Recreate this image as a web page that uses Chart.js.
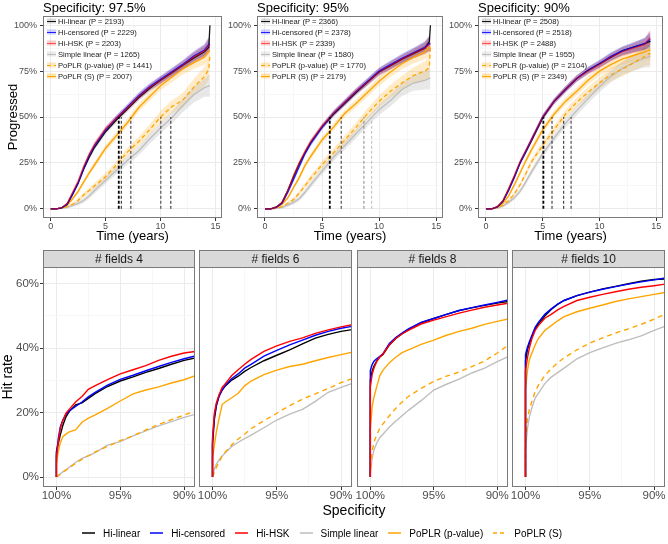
<!DOCTYPE html>
<html><head><meta charset="utf-8">
<script src="https://cdn.jsdelivr.net/npm/chart.js@4.4.1/dist/chart.umd.min.js"></script>
<style>
html,body{margin:0;padding:0;background:#fff;}
body{width:668px;height:544px;position:relative;overflow:hidden;font-family:"Liberation Sans",Arial,Helvetica,sans-serif;}
canvas{position:absolute;}
#xtitle{position:absolute;left:354px;top:501px;transform:translateX(-50%);font-size:14px;line-height:18px;color:#000;white-space:nowrap;}
#legend{position:absolute;left:82px;top:525px;height:16px;display:flex;align-items:center;font-size:10px;color:#000;white-space:nowrap;}
#legend .it{display:flex;align-items:center;margin-right:10px;}
#legend svg{margin-right:8px;}
</style></head><body>
<canvas id="t1" width="228" height="248" style="left:0;top:0;width:228px;height:248px"></canvas>
<canvas id="t2" width="226" height="248" style="left:222px;top:0;width:226px;height:248px"></canvas>
<canvas id="t3" width="220" height="248" style="left:448px;top:0;width:220px;height:248px"></canvas>
<canvas id="b1" width="197" height="257" style="left:0;top:248px;width:197px;height:257px"></canvas>
<canvas id="b2" width="157" height="257" style="left:197px;top:248px;width:157px;height:257px"></canvas>
<canvas id="b3" width="157" height="257" style="left:354px;top:248px;width:157px;height:257px"></canvas>
<canvas id="b4" width="157" height="257" style="left:511px;top:248px;width:157px;height:257px"></canvas>
<div id="xtitle">Specificity</div>
<div id="legend"></div>
<script>
// ---------------- DATA ----------------
const methods = ['Hi-linear','Hi-censored','Hi-HSK','Simple linear','PoPLR (p-value)','PoPLR (S)'];
const pCount975 = [2193, 2229, 2203, 1265, 1441, 2007];
const pCount95  = [2366, 2378, 2339, 1580, 1770, 2179];
const pCount90  = [2508, 2518, 2488, 1955, 2104, 2349];
const specTitles = ['Specificity: 97.5%', 'Specificity: 95%', 'Specificity: 90%'];

// Time (years) grid of the cumulative progression curves
const years = [0,0.5,1,1.5,2,2.5,3,3.5,4,5,6,7,8,9,10,11,12,13,14,14.4,14.5];

// Specificity 97.5%
const hiLinear975   = [0,0,0.5,2.5,8,14,21.5,28,33.5,42,48.5,54.5,60.5,65.5,70,74,78,82,85.5,88,100];
const hiCensored975 = [0,0,0.5,2.5,8,14,22,29,34.5,43,49.5,55.5,61.5,66.5,70.5,74.5,78.5,83,86.5,89.5,89.5];
const hiHSK975      = [0,0,0.6,3,9,15,23,29.5,35,43.5,49.5,55,61,66,70,74,78,82.5,86,89,89];
const simple975     = [0,0,0.2,0.8,1.8,3,4.5,7,10,15.5,21,26.5,31.5,38,44,49.5,56,62,66,67,67];
const poplrP975     = [0,0,0.3,1.2,2.5,4.5,7.5,10,12.5,17.5,24,31,36.5,43,50,55.5,59,66,72,76,84];
const poplrS975     = [0,0,0.4,2,5.5,9.5,14.5,19.5,24,33,40,47,55,61,67,71.5,76,79.5,82.5,86,86];
// Specificity 95%
const hiLinear95   = [0,0,1,3.5,10,17.5,24.5,30.5,36,44.5,51.5,57.5,63.5,69,74.5,78,81.5,84.5,87.5,91,100];
const hiCensored95 = [0,0,0.8,3,9,16,23,30,35.5,44.5,52,58,64,69.5,75,78.5,82,85,88,90,90];
const hiHSK95      = [0,0,1,3.5,10,18,25,31,36.5,45,52,58,64,69,74.5,78,81.5,84.5,87.5,89.5,89.5];
const simple95     = [0,0,0.2,0.8,2,3.5,5.5,9,13,20.5,28,34.5,41,47.5,54,59,65,68.5,70,71,71];
const poplrP95     = [0,0,0.3,1.2,3,5,8.5,12.5,16.5,24,30.5,37.5,44.5,52,58.5,64,68.5,72.5,75,77,88];
const poplrS95     = [0,0,0.5,2.5,6,11.5,17,23.5,28.5,37.5,44.5,52,57.5,63.5,69.5,74.5,79,82.5,85.5,88,88];
// Specificity 90%
const hiLinear90   = [0,0,1,4.2,10.5,17.5,25,31,37,49.5,58.5,65,71,75.5,79,82.5,86,88,90,91,91];
const hiCensored90 = [0,0,1,4,10,17,25,31,37.5,50,58.5,65,71,75.5,79,83,86,88,90,92,92];
const hiHSK90      = [0,0,1.2,4.5,11,18,25.5,31.5,37.5,50,58.5,65,71,75,78.5,82.5,85.5,87.5,89.5,93,93];
const simple90     = [0,0,0.4,1.5,3.5,6,9.5,14.5,20,30,38.5,46.5,53.5,60,66.5,72,76.5,79.5,82,83,83];
const poplrP90     = [0,0,0.5,2,4.5,8,13,19,25.5,34.5,43,51.5,58,63.5,68.5,73,76,79.5,83,84.5,84.5];
const poplrS90     = [0,0,0.7,3,7,13,19.5,26,32,43,51.5,58.5,64,70,75,78.5,81.5,83.5,85.5,86.5,86.5];

// Half-widths of the confidence bands (percentage points)
const bandHi     = [0,0,0.3,0.7,1,1.2,1.3,1.4,1.5,1.5,1.6,1.7,1.8,1.9,2,2.2,2.4,2.7,3.2,4,4];
const bandSimple = [0,0,0.3,0.6,0.9,1.1,1.3,1.5,1.7,1.9,2.1,2.3,2.5,2.7,2.9,3.2,3.6,4.2,5,6,6];
const bandPoplrP = [0,0,0.3,0.6,0.9,1.1,1.3,1.5,1.7,2,2.2,2.4,2.6,2.9,3.2,3.5,4,4.5,5.2,6,6];
const bandPoplrS = [0,0,0.3,0.6,0.9,1.1,1.3,1.5,1.6,1.8,1.9,2,2.1,2.3,2.5,2.7,3,3.4,4,5,5];

// Median time to progression (vertical dashed lines)
const medians975 = [6.2, 6.43, 7.3, 10.03, 10.94];
const medians95  = [5.68, 6.68, 8.67, 9.35];
const medians90  = [5.06, 5.82, 6.85, 7.5];

const timeTicks = [0,5,10,15];
const progressTicks = [0,25,50,75,100];

// Hit rate vs specificity
const fieldLabels = ['# fields 4', '# fields 6', '# fields 8', '# fields 10'];
const specificity = [100,100,99.85,99.7,99.5,99.25,99,98.5,98,97.5,97,96,95,94,93,92,91,90,89.1];
const specTicks = [100,95,90];
const hitTicks = [0,20,40,60];

const hitHiLinear4   = [0,8,10.5,13,16,18.7,20.3,22.4,23,24.4,25.8,28.1,29.8,31.1,32.5,33.7,35,36.2,37];
const hitHiCensored4 = [0,7,12,15.5,17.7,19.5,20.5,21.9,23.3,24.9,26.2,28.5,30.3,31.6,33,34.3,35.6,36.7,37.6];
const hitHiHSK4      = [0,6,11,15,17.5,19.8,21,23.3,25,27.2,28.3,30.2,32,33.3,34.6,36.2,37.5,38.5,39];
const hitSimple4     = [0,0,0.5,1,1.6,2.2,3,4.5,5.8,6.6,7.5,9.9,11,12.8,14.3,15.9,17.2,18.5,19.5];
const hitPoplrP4     = [0,4,8,10.5,12.5,13.3,14,14.6,17,18.3,19.2,21.3,23.6,25.8,27,28,29.2,30.2,31.5];
const hitPoplrS4     = [0,0,0.4,0.8,1.5,2.2,2.8,4.3,5.5,6.6,7.7,9.5,11.3,12.8,14.6,16.3,17.8,19.2,20.6];

const hitHiLinear6   = [0,10,18,22,25,27,28.3,30.1,31.3,32.8,34,36.1,37.8,39.5,41.3,43.1,44.3,45.2,45.8];
const hitHiCensored6 = [0,11,19,22.5,25,27,28.5,30.6,32,33.8,35,37.5,39.3,41,42.5,44,45.2,46.2,46.8];
const hitHiHSK6      = [0,12,20,23,25.5,27.8,29,31.5,33.3,35,36.5,39,40.7,42.1,43.2,44.6,45.7,46.6,47.3];
const hitSimple6     = [0,0,2.5,4,5.2,6.5,7.5,9.5,10.8,11.9,13,15.3,17.7,19.5,21,23.5,26.3,27.8,29.1];
const hitPoplrP6     = [0,6,10,14,18,22.5,23.3,24.6,26,28.3,29.8,31.8,33.2,34.3,35,36.1,37.1,38,38.8];
const hitPoplrS6     = [0,0,1.5,3,4.5,6.5,7.8,10,11.8,13.3,15,17.5,19.8,22.2,24.2,25.8,27.5,29.3,30.6];

const hitHiLinear8   = [0,30,33,34.5,36,37.3,38,41,43,44.5,45.8,47.9,49.2,50.5,51.7,52.5,53.3,54,54.5];
const hitHiCensored8 = [0,33,35,36,36.7,37.5,38.3,41.5,43.3,44.7,46,48,49.2,50.5,51.7,52.6,53.4,54.2,55];
const hitHiHSK8      = [0,28,32,34,35.8,37.3,38.2,41,43,44.4,45.5,47.5,48.7,49.8,50.9,51.8,52.7,53.4,54];
const hitSimple8     = [0,1,6,8.5,10.5,12.3,13.3,15.5,17.3,19,20.7,23.7,27,28.8,30.4,32.3,33.8,35.8,37.4];
const hitPoplrP8     = [0,15,22,25,28,31.5,33.2,35.5,37.2,38.6,39.5,41.2,42.5,44,45.2,46.2,47.4,48.3,49.1];
const hitPoplrS8     = [0,2,8,11,13,15.2,16.5,19,21.3,23.3,25,27.5,29.7,31.3,32.6,34.3,36,38.5,41];

const hitHiLinear10   = [0,36,39.5,41.5,43.5,46,47.5,50,52,53.6,54.8,56.3,57.4,58.4,59.2,60,60.8,61.3,61.5];
const hitHiCensored10 = [0,38,40.3,42,44,46.5,48,50.5,52.2,53.7,54.8,56.3,57.4,58.3,59.1,59.9,60.6,61.2,61.8];
const hitHiHSK10      = [0,33,37,40,43,45.5,47,49.3,50.5,51.9,53,54.8,55.8,56.7,57.5,58.3,58.9,59.4,59.9];
const hitSimple10     = [0,8.4,15,18.7,21.5,24.5,26,29,31,32.4,33.8,36.7,38.6,40.1,41.5,42.6,43.8,45.5,46.9];
const hitPoplrP10     = [0,27,33,36.4,38.5,41,43,45.5,47,48.5,49.8,51.3,52.4,53.4,54.5,55.3,56,56.7,57.3];
const hitPoplrS10     = [0,11.5,18,21,23.5,26.5,28.5,31.5,33.6,35.5,37,39.5,41.6,43.2,44.7,46,47.4,49,50.7];

// ---------------- STYLES ----------------
const FONT = '"Liberation Sans", Arial, Helvetica, sans-serif';
Chart.defaults.font.family = FONT;
Chart.defaults.animation = false;
Chart.defaults.plugins.legend.display = false;
Chart.defaults.plugins.tooltip.enabled = false;

const topStyle = [
  {color:'rgba(0,0,0,0.9)',     band:'rgba(0,0,0,0.10)',       key:'rgba(0,0,0,0.15)',       dash:[],    width:1.3, order:3},
  {color:'rgba(0,0,255,0.85)',  band:'rgba(0,0,255,0.22)',     key:'rgba(0,0,255,0.2)',      dash:[],    width:1.3, order:2},
  {color:'rgba(255,0,0,0.6)',   band:'rgba(255,0,0,0.22)',     key:'rgba(255,0,0,0.2)',      dash:[],    width:1.3, order:1},
  {color:'#bebebe',             band:'rgba(190,190,190,0.35)', key:'rgba(190,190,190,0.3)',  dash:[],    width:1.3, order:6},
  {color:'#ffa500',             band:'rgba(255,165,0,0.22)',   key:'rgba(255,165,0,0.25)',   dash:[4,3], width:1.3, order:5},
  {color:'#ffa500',             band:'rgba(255,165,0,0.22)',   key:'rgba(255,165,0,0.3)',    dash:[],    width:1.4, order:4}
];
const bottomStyle = [
  {color:'#000000', dash:[],    order:3},
  {color:'#0000ff', dash:[],    order:2},
  {color:'#ff0000', dash:[],    order:1},
  {color:'#bebebe', dash:[],    order:6},
  {color:'#ffa500', dash:[],    order:4},
  {color:'#ffa500', dash:[5,4], order:5}
];
const medianColor = ['#000','#222','#222','#333','#222'];
const medianColor95 = ['#000','#333','#888','#bbb'];

const MAJ = '#ebebeb', MIN = '#f4f4f4';

// ---------------- PLUGIN: panel border, strip, title, inset legend ----------------
const panelDecor = {
  id: 'panelDecor',
  afterDraw(chart, args, o) {
    const {ctx, chartArea: a} = chart;
    ctx.save();
    const L = Math.round(a.left) + 0.5, T = Math.round(a.top) + 0.5;
    const W = Math.round(a.right) - Math.round(a.left) - 1, H = Math.round(a.bottom) - Math.round(a.top) - 1;
    ctx.strokeStyle = '#7a7a7a'; ctx.lineWidth = 1; ctx.setLineDash([]);
    ctx.strokeRect(L, T, W, H);
    if (o.strip) {
      const sh = 17;
      ctx.fillStyle = '#d9d9d9';
      ctx.fillRect(L, T - sh, W, sh);
      ctx.strokeRect(L, T - sh, W, sh);
      ctx.fillStyle = '#1a1a1a'; ctx.font = '12px ' + FONT;
      ctx.textAlign = 'center'; ctx.textBaseline = 'middle';
      ctx.fillText(o.strip, (a.left + a.right) / 2, T - sh / 2 + 0.5);
    }
    if (o.title) {
      ctx.fillStyle = '#000'; ctx.font = '13px ' + FONT;
      ctx.textAlign = 'left'; ctx.textBaseline = 'middle';
      ctx.fillText(o.title, a.left, 8);
    }
    if (o.legend) {
      ctx.font = '7.6px ' + FONT; ctx.textAlign = 'left'; ctx.textBaseline = 'middle';
      o.legend.forEach((it, i) => {
        const y = Math.round(a.top + 4.7 + i * 11);
        const x0 = a.left + 4;
        ctx.fillStyle = it.key; ctx.fillRect(x0, y - 2.5, 9, 5);
        ctx.strokeStyle = it.color; ctx.lineWidth = 1; ctx.setLineDash(it.dash);
        ctx.beginPath(); ctx.moveTo(x0, y + 0.5); ctx.lineTo(x0 + 9, y + 0.5); ctx.stroke();
        ctx.setLineDash([]);
        ctx.fillStyle = '#1a1a1a'; ctx.fillText(it.text, x0 + 11, y + 0.5);
      });
    }
    ctx.restore();
  }
};

function withMinor(major) {
  const out = [];
  for (let i = 0; i < major.length; i++) {
    out.push(major[i]);
    if (i < major.length - 1) out.push((major[i] + major[i + 1]) / 2);
  }
  return out.sort((p, q) => p - q);
}

function axisGrid(major) {
  const isMaj = c => c.tick && major.indexOf(c.tick.value) >= 0;
  return {
    color: c => isMaj(c) ? MAJ : MIN,
    lineWidth: c => isMaj(c) ? 1 : 0.7,
    tickColor: c => isMaj(c) ? '#333' : 'rgba(0,0,0,0)',
    tickLength: 3,
    drawTicks: true
  };
}

// ---------------- TOP PANELS ----------------
function makeTop(id, cfg) {
  const series = cfg.series, bands = [bandHi, bandHi, bandHi, bandSimple, bandPoplrP, bandPoplrS];
  const ds = [];
  series.forEach((vals, i) => {
    const st = topStyle[i];
    ds.push({data: years.map((t, k) => ({x: t, y: Math.min(100, vals[k] + bands[i][k])})),
      borderWidth: 0, pointRadius: 0, fill: false, order: 20 + i});
    ds.push({data: years.map((t, k) => ({x: t, y: Math.max(0, vals[k] - bands[i][k])})),
      borderWidth: 0, pointRadius: 0, fill: '-1', backgroundColor: st.band, order: 20 + i});
  });
  series.forEach((vals, i) => {
    const st = topStyle[i];
    ds.push({data: years.map((t, k) => ({x: t, y: vals[k]})), borderColor: st.color,
      borderWidth: st.width, borderDash: st.dash, pointRadius: 0, fill: false, order: st.order, tension: 0});
  });
  cfg.medians.forEach((m, i) => {
    ds.push({data: [{x: m, y: 0}, {x: m, y: 50}], borderColor: cfg.medColors[i],
      borderWidth: i === 0 ? 1.8 : 1, borderDash: [3, 2], pointRadius: 0, fill: false, order: 0});
  });
  const legend = methods.map((m, i) => ({text: m + ' (P = ' + cfg.counts[i] + ')',
    color: topStyle[i].color, key: topStyle[i].key, dash: topStyle[i].dash}));
  new Chart(document.getElementById(id), {
    type: 'line',
    data: {datasets: ds},
    plugins: [panelDecor],
    options: {
      responsive: false, maintainAspectRatio: false,
      layout: {padding: {top: 16, right: cfg.padRight, left: 0, bottom: 0}},
      plugins: {panelDecor: {title: cfg.title, legend: legend}},
      scales: {
        x: {type: 'linear', min: -0.7, max: 15.6,
          afterBuildTicks: s => { s.ticks = withMinor(timeTicks).map(v => ({value: v})); },
          afterFit: s => { s.height = 30; s.paddingLeft = 0; s.paddingRight = 0; },
          grid: axisGrid(timeTicks), border: {display: false},
          ticks: {autoSkip: false, maxRotation: 0, padding: 0, color: '#4d4d4d', font: {size: 9},
            callback: v => timeTicks.indexOf(v) >= 0 ? String(v) : ''},
          title: {display: true, text: 'Time (years)', color: '#000', font: {size: 13}, padding: {top: 0, bottom: 3.5}}
        },
        y: {type: 'linear', min: -5, max: 105,
          afterBuildTicks: s => { s.ticks = withMinor(progressTicks).map(v => ({value: v})); },
          afterFit: s => { s.width = cfg.yWidth; s.paddingTop = 0; s.paddingBottom = 0; },
          grid: axisGrid(progressTicks), border: {display: false},
          ticks: {autoSkip: false, padding: 3, color: '#4d4d4d', font: {size: 9},
            callback: v => progressTicks.indexOf(v) >= 0 ? v + '%' : ''},
          title: {display: !!cfg.yTitle, text: 'Progressed', color: '#000', font: {size: 13}, padding: {top: 6, bottom: 0}}
        }
      }
    }
  });
}

makeTop('t1', {title: specTitles[0], counts: pCount975, yTitle: true, yWidth: 43, padRight: 6,
  series: [hiLinear975, hiCensored975, hiHSK975, simple975, poplrP975, poplrS975],
  medians: medians975, medColors: medianColor});
makeTop('t2', {title: specTitles[1], counts: pCount95, yTitle: false, yWidth: 35, padRight: 5,
  series: [hiLinear95, hiCensored95, hiHSK95, simple95, poplrP95, poplrS95],
  medians: medians95, medColors: medianColor95});
makeTop('t3', {title: specTitles[2], counts: pCount90, yTitle: false, yWidth: 30, padRight: 5,
  series: [hiLinear90, hiCensored90, hiHSK90, simple90, poplrP90, poplrS90],
  medians: medians90, medColors: medianColor});

// ---------------- BOTTOM PANELS ----------------
function makeBottom(id, cfg) {
  const ds = cfg.series.map((vals, i) => ({
    data: specificity.map((s, k) => ({x: s, y: vals[k]})),
    borderColor: bottomStyle[i].color, borderDash: bottomStyle[i].dash, borderWidth: 1.4,
    pointRadius: 0, fill: false, order: bottomStyle[i].order, tension: 0
  }));
  new Chart(document.getElementById(id), {
    type: 'line',
    data: {datasets: ds},
    plugins: [panelDecor],
    options: {
      responsive: false, maintainAspectRatio: false,
      layout: {padding: {top: 19, right: cfg.padRight, left: cfg.padLeft, bottom: 0}},
      plugins: {panelDecor: {strip: cfg.strip}},
      scales: {
        x: {type: 'linear', min: 89.15, max: 101.05, reverse: true,
          afterBuildTicks: s => { s.ticks = withMinor(specTicks).map(v => ({value: v})); },
          afterFit: s => { s.height = 18; s.paddingLeft = 0; s.paddingRight = 0; },
          grid: axisGrid(specTicks), border: {display: false},
          ticks: {autoSkip: false, maxRotation: 0, padding: -1, color: '#4d4d4d', font: {size: 11.5},
            callback: v => specTicks.indexOf(v) >= 0 ? v + '%' : ''}
        },
        y: {type: 'linear', min: -3.1, max: 65.2, display: cfg.showY,
          afterBuildTicks: s => { s.ticks = withMinor(hitTicks).map(v => ({value: v})); },
          afterFit: s => { s.width = cfg.showY ? 43 : 0; s.paddingTop = 0; s.paddingBottom = 0; },
          grid: axisGrid(hitTicks), border: {display: false},
          ticks: {autoSkip: false, padding: 1, color: '#4d4d4d', font: {size: 11.5},
            callback: v => hitTicks.indexOf(v) >= 0 ? v + '%' : ''},
          title: {display: true, text: 'Hit rate', color: '#000', font: {size: 14}, padding: {top: 0, bottom: 0}}
        }
      }
    }
  });
}
makeBottom('b1', {strip: fieldLabels[0], showY: true, padLeft: 0, padRight: 2,
  series: [hitHiLinear4, hitHiCensored4, hitHiHSK4, hitSimple4, hitPoplrP4, hitPoplrS4]});
makeBottom('b2', {strip: fieldLabels[1], showY: false, padLeft: 2, padRight: 2,
  series: [hitHiLinear6, hitHiCensored6, hitHiHSK6, hitSimple6, hitPoplrP6, hitPoplrS6]});
makeBottom('b3', {strip: fieldLabels[2], showY: false, padLeft: 3, padRight: 3,
  series: [hitHiLinear8, hitHiCensored8, hitHiHSK8, hitSimple8, hitPoplrP8, hitPoplrS8]});
makeBottom('b4', {strip: fieldLabels[3], showY: false, padLeft: 1, padRight: 3,
  series: [hitHiLinear10, hitHiCensored10, hitHiHSK10, hitSimple10, hitPoplrP10, hitPoplrS10]});

// ---------------- BOTTOM LEGEND ----------------
const leg = document.getElementById('legend');
methods.forEach((m, i) => {
  const it = document.createElement('div'); it.className = 'it';
  const st = bottomStyle[i];
  it.innerHTML = '<svg width="13" height="6"><line x1="0" y1="3" x2="13" y2="3" stroke="' + st.color +
    '" stroke-width="1.5"' + (st.dash.length ? ' stroke-dasharray="4,3"' : '') + '/></svg><span>' + m + '</span>';
  leg.appendChild(it);
});
</script>
</body></html>
